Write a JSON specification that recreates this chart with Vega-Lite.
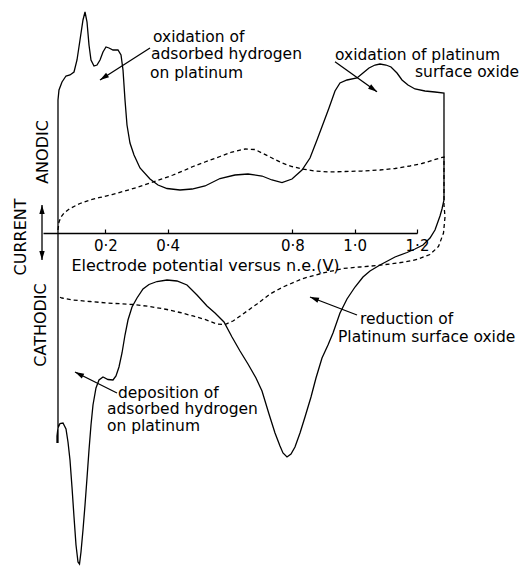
{
  "$schema": "https://vega.github.io/schema/vega-lite/v6.json",
  "width": 374,
  "height": 233,
  "autosize": {"type": "none"},
  "padding": {"left": 43, "top": 0, "right": 107, "bottom": 334},
  "background": "white",
  "config": {"view": {"stroke": null}},
  "datasets": {
    "solid": [
      {"i":1,"x":0.0481,"y":-0.9013},{"i":2,"x":0.0481,"y":0.5708},{"i":3,"x":0.0513,"y":0.6137},{"i":4,"x":0.0610,"y":0.6481},
      {"i":5,"x":0.0738,"y":0.6738},{"i":6,"x":0.0866,"y":0.6781},{"i":7,"x":0.0995,"y":0.6910},{"i":8,"x":0.1091,"y":0.7425},
      {"i":9,"x":0.1187,"y":0.8283},{"i":10,"x":0.1283,"y":0.9142},{"i":11,"x":0.1348,"y":0.9485},{"i":12,"x":0.1412,"y":0.9056},
      {"i":13,"x":0.1476,"y":0.8069},{"i":14,"x":0.1540,"y":0.7425},{"i":15,"x":0.1636,"y":0.7167},{"i":16,"x":0.1733,"y":0.7210},
      {"i":17,"x":0.1829,"y":0.7425},{"i":18,"x":0.1925,"y":0.7768},{"i":19,"x":0.2021,"y":0.7983},{"i":20,"x":0.2118,"y":0.7940},
      {"i":21,"x":0.2246,"y":0.7854},{"i":22,"x":0.2406,"y":0.7854},{"i":23,"x":0.2503,"y":0.7639},{"i":24,"x":0.2567,"y":0.6996},
      {"i":25,"x":0.2631,"y":0.5708},{"i":26,"x":0.2695,"y":0.4635},{"i":27,"x":0.2791,"y":0.3863},{"i":28,"x":0.2920,"y":0.3348},
      {"i":29,"x":0.3112,"y":0.2790},{"i":30,"x":0.3433,"y":0.2318},{"i":31,"x":0.3690,"y":0.2060},{"i":32,"x":0.3979,"y":0.1910},
      {"i":33,"x":0.4396,"y":0.1845},{"i":34,"x":0.4781,"y":0.1888},{"i":35,"x":0.5198,"y":0.2017},{"i":36,"x":0.5679,"y":0.2339},
      {"i":37,"x":0.6160,"y":0.2489},{"i":38,"x":0.6577,"y":0.2532},{"i":39,"x":0.7027,"y":0.2446},{"i":40,"x":0.7347,"y":0.2275},
      {"i":41,"x":0.7668,"y":0.2167},{"i":42,"x":0.7989,"y":0.2318},{"i":43,"x":0.8310,"y":0.2704},{"i":44,"x":0.8567,"y":0.3219},
      {"i":45,"x":0.8791,"y":0.3991},{"i":46,"x":0.8984,"y":0.4678},{"i":47,"x":0.9176,"y":0.5365},{"i":48,"x":0.9369,"y":0.6094},
      {"i":49,"x":0.9529,"y":0.6438},{"i":50,"x":0.9754,"y":0.6567},{"i":51,"x":1.0075,"y":0.6652},{"i":52,"x":1.0267,"y":0.6867},
      {"i":53,"x":1.0460,"y":0.7082},{"i":54,"x":1.0652,"y":0.7210},{"i":55,"x":1.0813,"y":0.7253},{"i":56,"x":1.1005,"y":0.7210},
      {"i":57,"x":1.1166,"y":0.7124},{"i":58,"x":1.1358,"y":0.6867},{"i":59,"x":1.1519,"y":0.6567},{"i":60,"x":1.1711,"y":0.6352},
      {"i":61,"x":1.1936,"y":0.6180},{"i":62,"x":1.2256,"y":0.6094},{"i":63,"x":1.2577,"y":0.6052},{"i":64,"x":1.2866,"y":0.6009},
      {"i":65,"x":1.2866,"y":0.1416},{"i":66,"x":1.2802,"y":0.1030},{"i":67,"x":1.2738,"y":0.0730},{"i":68,"x":1.2577,"y":0.0129},
      {"i":69,"x":1.2417,"y":-0.0215},{"i":70,"x":1.2192,"y":-0.0515},{"i":71,"x":1.1936,"y":-0.0687},{"i":72,"x":1.1679,"y":-0.0837},
      {"i":73,"x":1.1294,"y":-0.1030},{"i":74,"x":1.0813,"y":-0.1373},{"i":75,"x":1.0492,"y":-0.1631},{"i":76,"x":1.0267,"y":-0.1888},
      {"i":77,"x":1.0011,"y":-0.2318},{"i":78,"x":0.9754,"y":-0.2833},{"i":79,"x":0.9529,"y":-0.3433},{"i":80,"x":0.9305,"y":-0.4292},
      {"i":81,"x":0.9144,"y":-0.4807},{"i":82,"x":0.8952,"y":-0.5365},{"i":83,"x":0.8759,"y":-0.6223},{"i":84,"x":0.8599,"y":-0.7039},
      {"i":85,"x":0.8406,"y":-0.7897},{"i":86,"x":0.8246,"y":-0.8584},{"i":87,"x":0.8085,"y":-0.9185},{"i":88,"x":0.7957,"y":-0.9485},
      {"i":89,"x":0.7829,"y":-0.9614},{"i":90,"x":0.7700,"y":-0.9442},{"i":91,"x":0.7604,"y":-0.9142},{"i":92,"x":0.7444,"y":-0.8584},
      {"i":93,"x":0.7251,"y":-0.7768},{"i":94,"x":0.7027,"y":-0.6781},{"i":95,"x":0.6834,"y":-0.6223},{"i":96,"x":0.6577,"y":-0.5622},
      {"i":97,"x":0.6321,"y":-0.5064},{"i":98,"x":0.6064,"y":-0.4464},{"i":99,"x":0.5807,"y":-0.3820},{"i":100,"x":0.5519,"y":-0.3433},
      {"i":101,"x":0.5262,"y":-0.3133},{"i":102,"x":0.4941,"y":-0.2661},{"i":103,"x":0.4620,"y":-0.2232},{"i":104,"x":0.4299,"y":-0.2060},
      {"i":105,"x":0.3979,"y":-0.2017},{"i":106,"x":0.3658,"y":-0.2082},{"i":107,"x":0.3401,"y":-0.2210},{"i":108,"x":0.3209,"y":-0.2403},
      {"i":109,"x":0.3016,"y":-0.2790},{"i":110,"x":0.2856,"y":-0.3176},{"i":111,"x":0.2727,"y":-0.3734},{"i":112,"x":0.2631,"y":-0.4378},
      {"i":113,"x":0.2535,"y":-0.5150},{"i":114,"x":0.2438,"y":-0.5751},{"i":115,"x":0.2342,"y":-0.6137},{"i":116,"x":0.2246,"y":-0.6309},
      {"i":117,"x":0.2086,"y":-0.6288},{"i":118,"x":0.1925,"y":-0.6180},{"i":119,"x":0.1797,"y":-0.6309},{"i":120,"x":0.1700,"y":-0.6652},
      {"i":121,"x":0.1604,"y":-0.7382},{"i":122,"x":0.1540,"y":-0.8240},{"i":123,"x":0.1476,"y":-0.9313},{"i":124,"x":0.1412,"y":-1.0515},
      {"i":125,"x":0.1348,"y":-1.1674},{"i":126,"x":0.1283,"y":-1.2747},{"i":127,"x":0.1219,"y":-1.3691},{"i":128,"x":0.1171,"y":-1.4206},
      {"i":129,"x":0.1123,"y":-1.4120},{"i":130,"x":0.1059,"y":-1.3391},{"i":131,"x":0.0995,"y":-1.2189},{"i":132,"x":0.0930,"y":-1.0901},
      {"i":133,"x":0.0866,"y":-0.9742},{"i":134,"x":0.0802,"y":-0.8970},{"i":135,"x":0.0738,"y":-0.8412},{"i":136,"x":0.0642,"y":-0.8155},
      {"i":137,"x":0.0545,"y":-0.8176},{"i":138,"x":0.0481,"y":-0.8369},{"i":139,"x":0.0449,"y":-0.8712},{"i":140,"x":0.0449,"y":-0.9013}
    ],
    "dashed": [
      {"i":1,"x":0.0481,"y":0.0129},{"i":2,"x":0.0513,"y":0.0472},{"i":3,"x":0.0577,"y":0.0687},{"i":4,"x":0.0674,"y":0.0858},
      {"i":5,"x":0.0866,"y":0.1052},{"i":6,"x":0.1187,"y":0.1266},{"i":7,"x":0.1508,"y":0.1416},{"i":8,"x":0.1829,"y":0.1524},
      {"i":9,"x":0.2214,"y":0.1652},{"i":10,"x":0.2567,"y":0.1781},{"i":11,"x":0.3016,"y":0.1953},{"i":12,"x":0.3433,"y":0.2146},
      {"i":13,"x":0.3818,"y":0.2318},{"i":14,"x":0.4171,"y":0.2489},{"i":15,"x":0.4524,"y":0.2682},{"i":16,"x":0.4813,"y":0.2854},
      {"i":17,"x":0.5198,"y":0.3047},{"i":18,"x":0.5679,"y":0.3283},{"i":19,"x":0.6064,"y":0.3476},{"i":20,"x":0.6481,"y":0.3605},
      {"i":21,"x":0.6802,"y":0.3584},{"i":22,"x":0.7027,"y":0.3433},{"i":23,"x":0.7347,"y":0.3219},{"i":24,"x":0.7668,"y":0.3004},
      {"i":25,"x":0.7989,"y":0.2854},{"i":26,"x":0.8310,"y":0.2747},{"i":27,"x":0.8727,"y":0.2661},{"i":28,"x":0.9176,"y":0.2618},
      {"i":29,"x":0.9690,"y":0.2639},{"i":30,"x":1.0235,"y":0.2661},{"i":31,"x":1.0813,"y":0.2704},{"i":32,"x":1.1294,"y":0.2768},
      {"i":33,"x":1.1775,"y":0.2876},{"i":34,"x":1.2160,"y":0.2983},{"i":35,"x":1.2481,"y":0.3112},{"i":36,"x":1.2738,"y":0.3219},
      {"i":37,"x":1.2866,"y":0.3262},{"i":38,"x":1.2866,"y":0.1202},{"i":39,"x":1.2898,"y":0.0687},{"i":40,"x":1.2850,"y":0.0},
      {"i":41,"x":1.2690,"y":-0.0579},{"i":42,"x":1.2417,"y":-0.0923},{"i":43,"x":1.2000,"y":-0.1137},{"i":44,"x":1.1615,"y":-0.1245},
      {"i":45,"x":1.1134,"y":-0.1330},{"i":46,"x":1.0716,"y":-0.1395},{"i":47,"x":1.0171,"y":-0.1459},{"i":48,"x":0.9626,"y":-0.1524},
      {"i":49,"x":0.8984,"y":-0.1717},{"i":50,"x":0.8342,"y":-0.1953},{"i":51,"x":0.7700,"y":-0.2318},{"i":52,"x":0.7283,"y":-0.2618},
      {"i":53,"x":0.6866,"y":-0.3047},{"i":54,"x":0.6417,"y":-0.3476},{"i":55,"x":0.6096,"y":-0.3777},{"i":56,"x":0.5840,"y":-0.3927},
      {"i":57,"x":0.5583,"y":-0.3906},{"i":58,"x":0.5198,"y":-0.3712},{"i":59,"x":0.4813,"y":-0.3562},{"i":60,"x":0.4396,"y":-0.3412},
      {"i":61,"x":0.3979,"y":-0.3283},{"i":62,"x":0.3433,"y":-0.3155},{"i":63,"x":0.2888,"y":-0.3069},{"i":64,"x":0.2053,"y":-0.3004},
      {"i":65,"x":0.1508,"y":-0.2940},{"i":66,"x":0.0963,"y":-0.2876},{"i":67,"x":0.0610,"y":-0.2790},{"i":68,"x":0.0481,"y":-0.2725}
    ],
    "arrows": [
      {"id":"a1","x":0.3433,"y":0.7940,"x2":0.1829,"y2":0.6567},
      {"id":"a2","x":0.9369,"y":0.7352,"x2":1.0716,"y2":0.6064},
      {"id":"a3","x":1.0075,"y":-0.3519,"x2":0.8567,"y2":-0.2747},
      {"id":"a4","x":0.2374,"y":-0.6867,"x2":0.1027,"y2":-0.5966},
      {"id":"a5","x":-0.0032,"y":0.1202,"x2":-0.0032,"y2":-0.1159}
    ],
    "heads": [
      {"id":"a1","x":0.1829,"y":0.6567},
      {"id":"a2","x":1.0716,"y":0.6064},
      {"id":"a3","x":0.8567,"y":-0.2747},
      {"id":"a4","x":0.1027,"y":-0.5966},
      {"id":"up","x":-0.0032,"y":0.1202},
      {"id":"down","x":-0.0032,"y":-0.1159}
    ],
    "notes": [
      {"x":0.3529,"y":0.8433,"text":"oxidation of"},
      {"x":0.3465,"y":0.7661,"text":"adsorbed hydrogen"},
      {"x":0.3433,"y":0.6888,"text":"on platinum"},
      {"x":0.9369,"y":0.7639,"text":"oxidation of platinum"},
      {"x":1.1936,"y":0.6910,"text":"surface oxide"},
      {"x":1.0171,"y":-0.3712,"text":"reduction of"},
      {"x":0.9465,"y":-0.4464,"text":"Platinum surface oxide"},
      {"x":0.2406,"y":-0.6867,"text":"deposition of"},
      {"x":0.2053,"y":-0.7575,"text":"adsorbed hydrogen"},
      {"x":0.2053,"y":-0.8283,"text":"on platinum"}
    ],
    "vlabels": [
      {"x":-0.0706,"y":-0.0172,"text":"CURRENT"},
      {"x":-0.0016,"y":0.3476,"text":"ANODIC"},
      {"x":-0.0064,"y":-0.3948,"text":"CATHODIC"}
    ]
  },
  "encoding": {
    "x": {
      "field": "x", "type": "quantitative",
      "scale": {"domain": [0, 1.2], "nice": false, "zero": false},
      "axis": {
        "values": [0.2, 0.4, 0.8, 1.0, 1.2],
        "format": ".1f",
        "labelExpr": "replace(datum.label, '.', '·')",
        "grid": false,
        "domainColor": "black", "domainWidth": 1.3,
        "tickColor": "black", "tickSize": -4, "tickWidth": 1.2,
        "labelFont": "DejaVu Sans", "labelFontSize": 15, "labelColor": "black",
        "labelPadding": 16, "labelBaseline": "middle", "labelFlush": false, "labelOverlap": false,
        "title": "Electrode potential versus n.e.(V)",
        "titleFont": "DejaVu Sans", "titleFontSize": 16, "titleFontWeight": "normal", "titleColor": "black",
        "titleX": 162, "titleY": 32, "titleBaseline": "middle", "titleAlign": "center"
      }
    },
    "y": {
      "field": "y", "type": "quantitative",
      "scale": {"domain": [0, 1], "nice": false, "zero": false},
      "axis": null
    }
  },
  "layer": [
    {
      "data": {"name": "dashed"},
      "mark": {"type": "line", "color": "black", "strokeWidth": 1.3, "strokeDash": [4, 3]},
      "encoding": {"order": {"field": "i", "type": "quantitative"}}
    },
    {
      "data": {"name": "solid"},
      "mark": {"type": "line", "color": "black", "strokeWidth": 1.3},
      "encoding": {"order": {"field": "i", "type": "quantitative"}}
    },
    {
      "data": {"name": "arrows"},
      "mark": {"type": "rule", "color": "black", "strokeWidth": 1.3},
      "encoding": {"x2": {"field": "x2"}, "y2": {"field": "y2"}}
    },
    {
      "data": {"name": "heads"},
      "transform": [{"filter": "datum.id == 'a1'"}],
      "mark": {"type": "point", "shape": "M0,0L-0.6,2L0.6,2Z", "filled": true, "color": "black", "opacity": 1, "size": 81, "angle": 237}
    },
    {
      "data": {"name": "heads"},
      "transform": [{"filter": "datum.id == 'a2'"}],
      "mark": {"type": "point", "shape": "M0,0L-0.6,2L0.6,2Z", "filled": true, "color": "black", "opacity": 1, "size": 81, "angle": 125}
    },
    {
      "data": {"name": "heads"},
      "transform": [{"filter": "datum.id == 'a3'"}],
      "mark": {"type": "point", "shape": "M0,0L-0.6,2L0.6,2Z", "filled": true, "color": "black", "opacity": 1, "size": 81, "angle": 291}
    },
    {
      "data": {"name": "heads"},
      "transform": [{"filter": "datum.id == 'a4'"}],
      "mark": {"type": "point", "shape": "M0,0L-0.6,2L0.6,2Z", "filled": true, "color": "black", "opacity": 1, "size": 81, "angle": 297}
    },
    {
      "data": {"name": "heads"},
      "transform": [{"filter": "datum.id == 'up'"}],
      "mark": {"type": "point", "shape": "M0,0L-0.6,2L0.6,2Z", "filled": true, "color": "black", "opacity": 1, "size": 81, "angle": 0}
    },
    {
      "data": {"name": "heads"},
      "transform": [{"filter": "datum.id == 'down'"}],
      "mark": {"type": "point", "shape": "M0,0L-0.6,2L0.6,2Z", "filled": true, "color": "black", "opacity": 1, "size": 81, "angle": 180}
    },
    {
      "data": {"name": "notes"},
      "mark": {"type": "text", "align": "left", "baseline": "middle", "font": "DejaVu Sans", "fontSize": 15.5, "color": "black"},
      "encoding": {"text": {"field": "text"}}
    },
    {
      "data": {"name": "vlabels"},
      "mark": {"type": "text", "align": "center", "baseline": "middle", "font": "DejaVu Sans", "fontSize": 16, "color": "black", "angle": 270},
      "encoding": {"text": {"field": "text"}}
    }
  ]
}
